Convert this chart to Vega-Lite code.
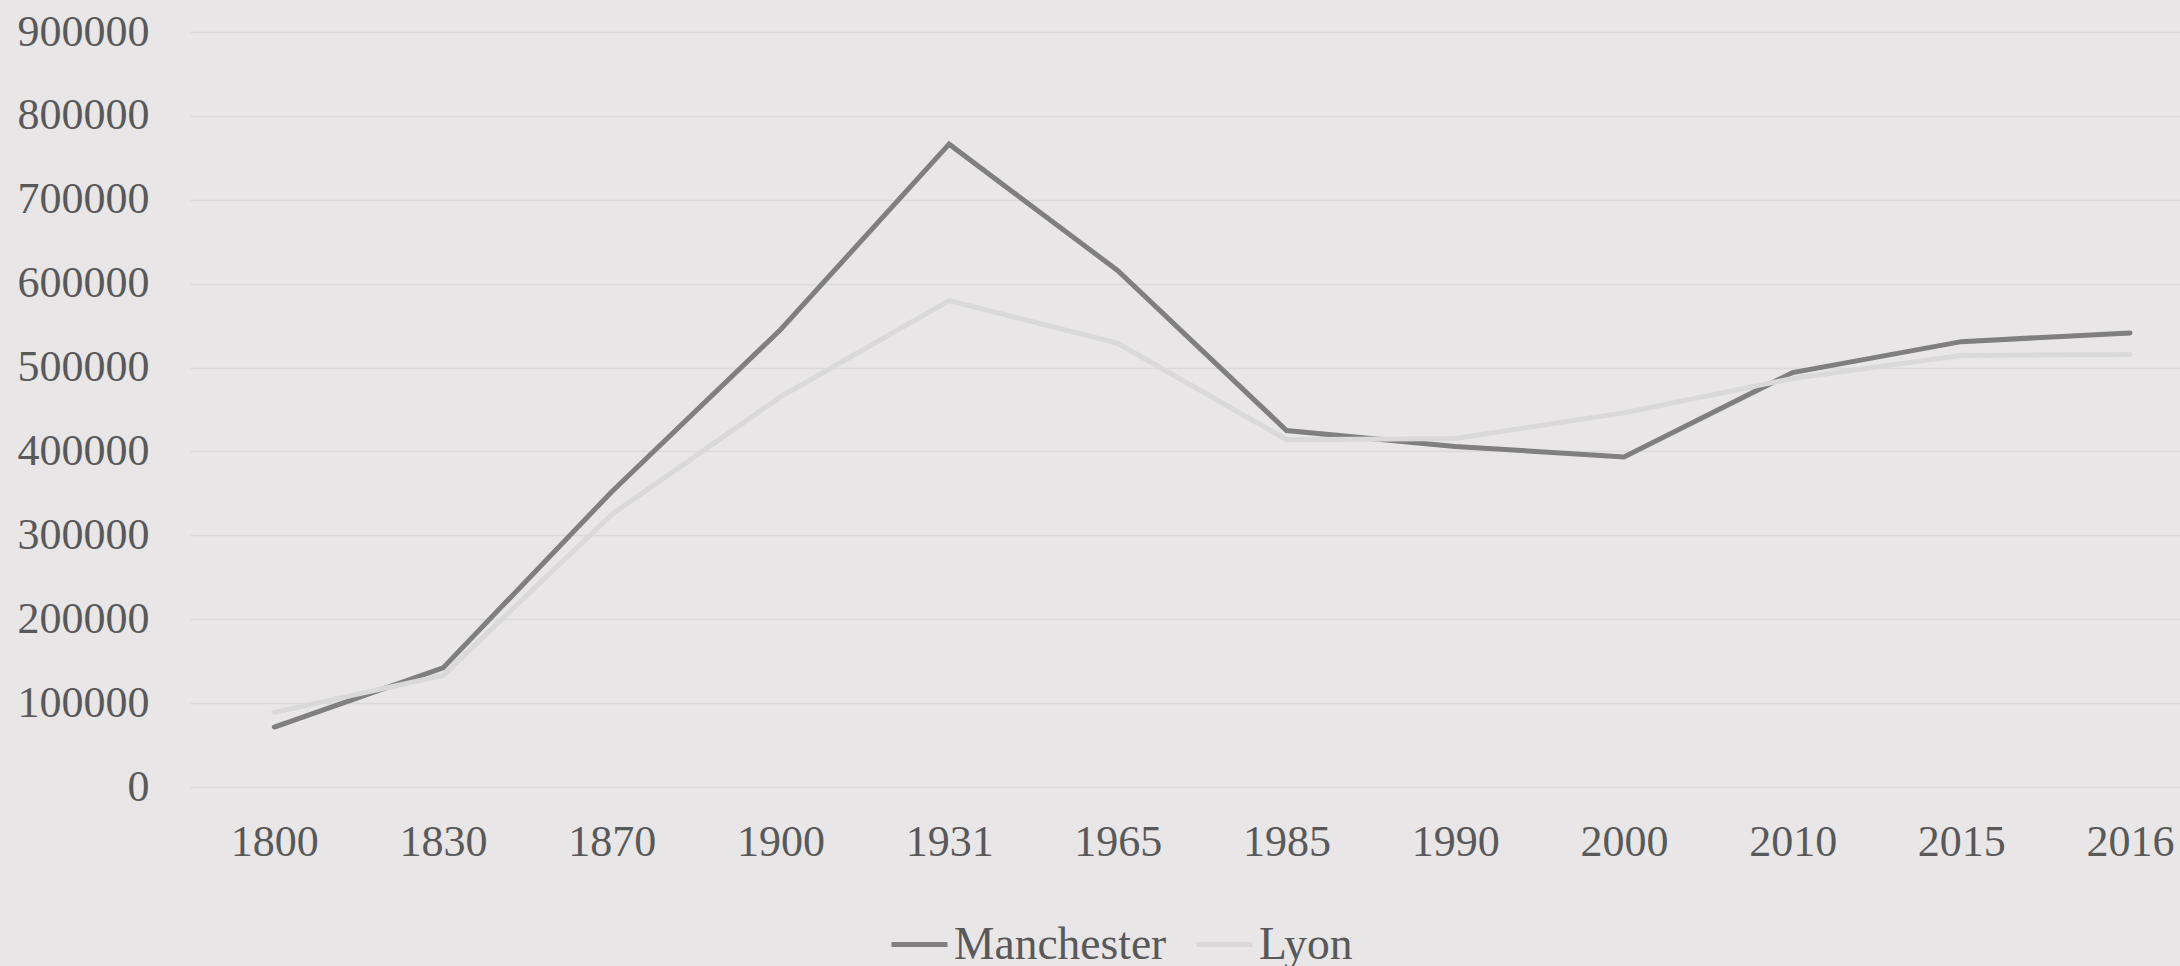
{
  "$schema": "https://vega.github.io/schema/vega-lite/v6.json",
  "width": 1990,
  "height": 755,
  "autosize": {"type": "none"},
  "padding": {"left": 190, "top": 32, "right": 0, "bottom": 179},
  "background": "#E8E6E7",
  "config": {
    "view": {"stroke": null},
    "font": "Liberation Serif",
    "axis": {"labelFont": "Liberation Serif", "labelColor": "#595959", "domain": false, "ticks": false, "tickSize": 0, "title": null},
    "legend": {"labelFont": "Liberation Serif"}
  },
  "data": {
    "values": [
      {"year": "1800", "city": "Manchester", "population": 71500},
      {"year": "1830", "city": "Manchester", "population": 142000},
      {"year": "1870", "city": "Manchester", "population": 352000},
      {"year": "1900", "city": "Manchester", "population": 545000},
      {"year": "1931", "city": "Manchester", "population": 766300},
      {"year": "1965", "city": "Manchester", "population": 615500},
      {"year": "1985", "city": "Manchester", "population": 425000},
      {"year": "1990", "city": "Manchester", "population": 406000},
      {"year": "2000", "city": "Manchester", "population": 393500},
      {"year": "2010", "city": "Manchester", "population": 494000},
      {"year": "2015", "city": "Manchester", "population": 530900},
      {"year": "2016", "city": "Manchester", "population": 541300},
      {"year": "1800", "city": "Lyon", "population": 89000},
      {"year": "1830", "city": "Lyon", "population": 133000},
      {"year": "1870", "city": "Lyon", "population": 325000},
      {"year": "1900", "city": "Lyon", "population": 465000},
      {"year": "1931", "city": "Lyon", "population": 579800},
      {"year": "1965", "city": "Lyon", "population": 529000},
      {"year": "1985", "city": "Lyon", "population": 414000},
      {"year": "1990", "city": "Lyon", "population": 415500},
      {"year": "2000", "city": "Lyon", "population": 446000},
      {"year": "2010", "city": "Lyon", "population": 487000},
      {"year": "2015", "city": "Lyon", "population": 514500},
      {"year": "2016", "city": "Lyon", "population": 515700}
    ]
  },
  "mark": {"type": "line", "strokeWidth": 5, "strokeCap": "round", "strokeJoin": "miter"},
  "encoding": {
    "x": {
      "field": "year",
      "type": "ordinal",
      "scale": {"type": "point", "padding": 0.398, "align": 0.628},
      "axis": {"labelFontSize": 44, "labelAngle": 0, "labelPadding": 33, "grid": false}
    },
    "y": {
      "field": "population",
      "type": "quantitative",
      "scale": {"domain": [0, 900000], "nice": false},
      "axis": {"values": [0,100000,200000,300000,400000,500000,600000,700000,800000,900000], "format": "d", "labelFontSize": 44, "labelPadding": 41, "grid": true, "gridColor": "#D9D9D9", "gridWidth": 1.3}
    },
    "color": {
      "field": "city",
      "type": "nominal",
      "sort": ["Manchester", "Lyon"],
      "scale": {"domain": ["Manchester", "Lyon"], "range": ["#7F7F7F", "#D9D9D9"]},
      "legend": {
        "title": null,
        "orient": "none",
        "direction": "horizontal",
        "legendX": 699,
        "legendY": 882,
        "padding": 0,
        "symbolType": "stroke",
        "symbolSize": 3136,
        "symbolStrokeWidth": 5,
        "labelFontSize": 45.5,
        "labelLimit": 0,
        "labelColor": "#595959",
        "labelOffset": 4,
        "columnPadding": 19
      }
    }
  }
}
